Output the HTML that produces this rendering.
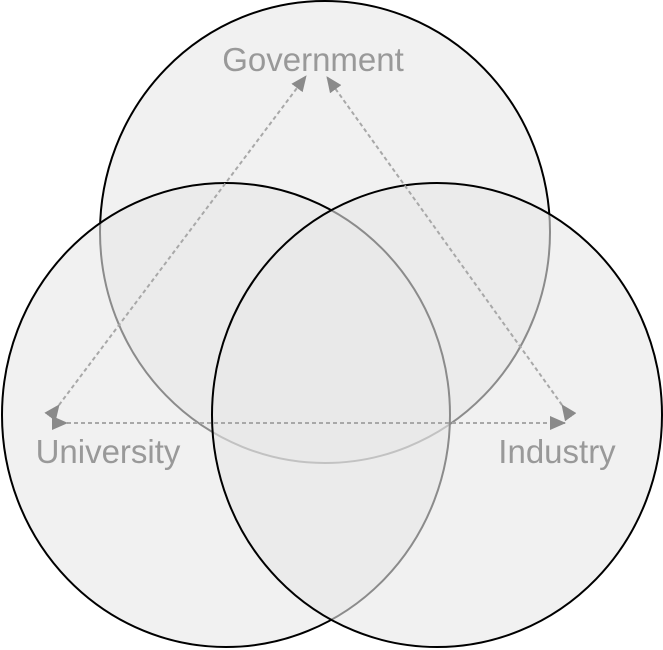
<!DOCTYPE html>
<html><head><style>html,body{margin:0;padding:0;background:#fff}svg{display:block}</style></head>
<body>
<svg width="663" height="650" viewBox="0 0 663 650" xmlns="http://www.w3.org/2000/svg">
<defs>
<marker id="a" markerWidth="16" markerHeight="14" refX="15" refY="7" orient="auto" markerUnits="userSpaceOnUse" viewBox="0 0 16 14">
<path d="M0,0 L16,7 L0,14 z" fill="#8a8a8a"/></marker>
</defs>
<g fill="#e8e8e8" fill-opacity="0.6" stroke="#000" stroke-width="2">
<ellipse cx="325" cy="232" rx="225" ry="231"/>
<ellipse cx="226" cy="415" rx="224" ry="232"/>
<ellipse cx="437" cy="415" rx="225" ry="232"/>
</g>
<g stroke="#a8a8a8" stroke-width="2" stroke-dasharray="4,3" fill="none">
<line x1="59" y1="405" x2="306" y2="76" marker-start="url(#a)" marker-end="url(#a)"/>
<line x1="562" y1="405" x2="327" y2="77" marker-start="url(#a)" marker-end="url(#a)"/>
<line x1="67" y1="423" x2="565" y2="423" marker-start="url(#a)" marker-end="url(#a)"/>
</g>
<g font-family="Liberation Sans, sans-serif" font-size="33" fill="#999" text-anchor="middle">
<text x="313" y="71">Government</text>
<text x="108" y="463">University</text>
<text x="557" y="463">Industry</text>
</g>
</svg>
</body></html>
